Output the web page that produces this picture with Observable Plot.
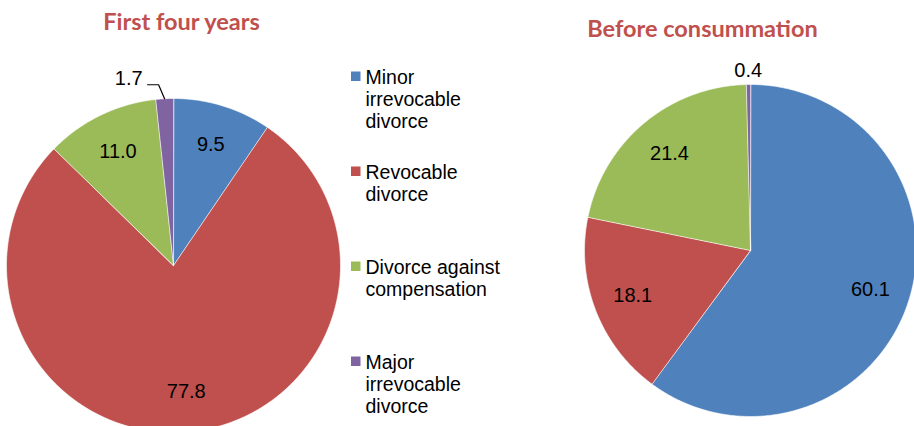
<!DOCTYPE html>
<html><head><meta charset="utf-8">
<script src="https://cdn.jsdelivr.net/npm/d3@7"></script>
<script src="https://cdn.jsdelivr.net/npm/@observablehq/plot@0.6"></script>
<style>body{margin:0;background:#fff;} svg{display:block}</style>
</head><body><div id="chart"></div>
<script>
const categories = ["Minor irrevocable divorce", "Revocable divorce", "Divorce against compensation", "Major irrevocable divorce"];
const legendLabels = ["Minor\nirrevocable\ndivorce", "Revocable\ndivorce", "Divorce against\ncompensation", "Major\nirrevocable\ndivorce"];
const colors = ["#4f81bd", "#c0504d", "#9bbb59", "#8064a2"];
const firstFourYears = [9.5, 77.8, 11.0, 1.7];
const beforeConsummation = [60.1, 18.1, 21.4, 0.4];
const titles = ["First four years", "Before consummation"];

const W = 914, H = 426;
const layout = [
  {values: firstFourYears, title: titles[0], cx: 173, cy: 265, r: 167, tx: 181, ty: 29, leader: true},
  {values: beforeConsummation, title: titles[1], cx: 750, cy: 250, r: 166, tx: 702, ty: 36, leader: false}
];

const slices = [], inLabels = [], outLabels = [], leaderLabels = [], leaders = [], titleRows = [];
layout.forEach((p, pi) => {
  titleRows.push({x: p.tx, y: p.ty, text: p.title});
  const arcs = d3.pie().sort(null).value(d => d.v)(p.values.map((v, i) => ({v, i})));
  arcs.forEach(a => {
    const key = pi + "-" + a.data.i;
    const cat = categories[a.data.i];
    const pt = (rr, t) => [p.cx + rr * Math.sin(t), p.cy - rr * Math.cos(t)];
    slices.push({x: p.cx, y: p.cy, key, cat});
    const n = Math.max(2, Math.ceil((a.endAngle - a.startAngle) / 0.01));
    for (let k = 0; k <= n; k++) {
      const [x, y] = pt(p.r, a.startAngle + (a.endAngle - a.startAngle) * k / n);
      slices.push({x, y, key, cat});
    }
    const mid = (a.startAngle + a.endAngle) / 2;
    const v = a.data.v, text = v.toFixed(1);
    if (v >= 5) {
      const [x, y] = pt(0.76 * p.r, mid);
      inLabels.push({x, y, text});
    } else if (p.leader) {
      const [ex, ey] = pt(p.r, mid);
      const bx = ex - 6, by = ey - 14, lx = bx - 11;
      leaders.push({x: ex, y: ey, key}, {x: bx, y: by, key}, {x: lx, y: by, key});
      leaderLabels.push({x: lx - 5, y: by, text});
    } else {
      const [x, y] = pt(p.r + 14, mid);
      outLabels.push({x, y, text});
    }
  });
});

const legendRows = legendLabels.map((label, i) => ({label, cat: categories[i], top: 68 + 95 * i}));

const chart = Plot.plot({
  width: W, height: H, margin: 0,
  x: {domain: [0, W], range: [0, W], axis: null},
  y: {domain: [0, H], range: [0, H], axis: null},
  color: {domain: categories, range: colors},
  style: {fontFamily: "'Liberation Sans', Arial, sans-serif", background: "white", overflow: "hidden"},
  marks: [
    Plot.line(slices, {x: "x", y: "y", z: "key", fill: "cat", stroke: "white", strokeWidth: 0.7, strokeOpacity: 0.85, curve: "linear-closed"}),
    Plot.text(inLabels, {x: "x", y: "y", text: "text", fontSize: 20, fill: "black"}),
    Plot.text(outLabels, {x: "x", y: "y", text: "text", fontSize: 20, fill: "black"}),
    Plot.line(leaders, {x: "x", y: "y", z: "key", stroke: "black", strokeWidth: 1.2}),
    Plot.text(leaderLabels, {x: "x", y: "y", text: "text", fontSize: 20, fill: "black", textAnchor: "end", lineAnchor: "bottom"}),
    Plot.rect(legendRows, {x1: () => 351, x2: () => 360.5, y1: d => d.top + 3.5, y2: d => d.top + 13, fill: "cat"}),
    Plot.text(legendRows, {x: () => 365, y: "top", text: "label", textAnchor: "start", lineAnchor: "top", lineHeight: 1.13, fontSize: 19.5, fill: "black"}),
    Plot.text(titleRows, {x: "x", y: "y", text: "text", fontFamily: "Lato", fontWeight: "bold", fontSize: 23.5, fill: "#c0504d", lineAnchor: "bottom"})
  ]
});
document.getElementById("chart").appendChild(chart);
</script>
</body></html>
